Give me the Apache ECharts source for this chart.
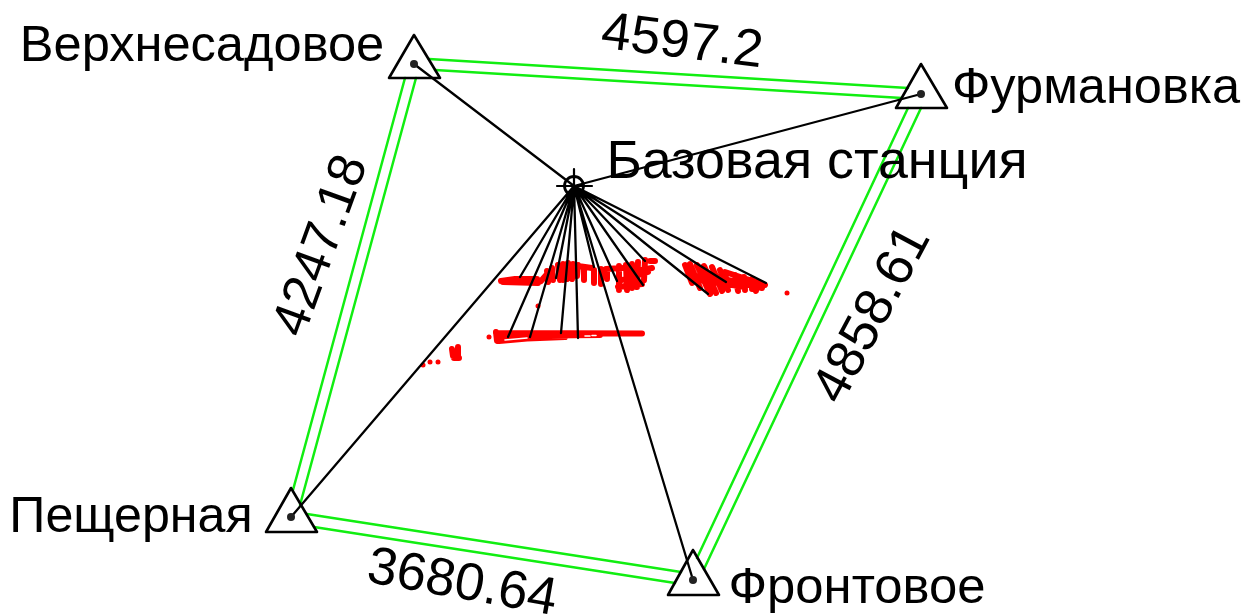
<!DOCTYPE html>
<html><head><meta charset="utf-8">
<style>html,body{margin:0;padding:0;background:#fff}#c{width:1245px;height:616px}</style>
<script src="https://cdn.jsdelivr.net/npm/echarts@6/dist/echarts.min.js"></script>
</head><body><div id="c"></div>
<script>
const stations = [[414,64],[921,94],[291,517],[693,580]];
const triangles = [
  [[414,35],[389,78],[440,78],[414,35]],
  [[921,64],[896,108],[947,108],[921,64]],
  [[291,488],[266,532],[317,532],[291,488]],
  [[693,550],[668,595],[719,595],[693,550]]
];
const greenLines = [
  [[429,59],[908,88]],[[435,70],[902,98]],
  [[405,78],[293,490]],[[416,78],[300,505]],
  [[908,108],[697,558]],[[921,108],[704,569]],
  [[307,514],[681,572]],[[314,527],[675,583]]
];
const baseStation = [574,186];
const baseCross = [[[557,186],[592,186]],[[574,169],[574,203]]];
const rayTargets = [[414,64],[921,94],[291,517],[693,580],
  [520,277],[508,337],[530,337],[556,278],[561,333],[578,338],
  [594,267],[617,281],[643,285],[645,261],[708,294],[726,282],[766,283]];
const redStrokes = [
  [[501,281],[515,279],[537,279]],[[503,282],[538,283]],[[541,281],[548,273]],[[547,271],[548,282]],
  [[552,268],[553,280]],[[558,265],[560,280]],[[563,264],[563,280]],[[568,263],[567,279]],[[573,264],[572,279]],[[578,265],[577,276]],
  [[584,267],[584,280]],[[578,266],[592,268]],[[594,270],[594,283]],[[601,269],[601,284]],[[607,270],[607,279]],[[606,269],[622,268]],
  [[619,266],[619,290]],[[626,265],[627,290]],[[632,264],[632,288]],[[638,262],[637,287]],[[645,260],[644,280]],[[650,261],[655,261]],
  [[618,287],[642,284]],[[630,272],[652,268]],[[622,280],[648,272]],
  [[496,333],[642,333.5]],[[497,336],[600,335]],[[499,341],[527,338.5],[565,337]],[[496,332],[497,341]],
  [[452,349],[453,356]],[[458,347],[458,358]],[[454,358],[459,358]],
  [[685,265],[692,283]],[[690,264],[700,288]],[[697,265],[710,294]],[[704,266],[716,293]],[[712,267],[722,291]],
  [[720,270],[728,290]],[[725,272],[765,285]],[[728,280],[762,288]],[[735,275],[738,291]],[[744,277],[745,290]],[[752,279],[752,289]],[[757,282],[756,291]],
  [[703,270],[720,282]],[[700,280],[745,287]],[[695,276],[726,278]]
];
const redDots = [[489,337],[423,365],[430,362],[438,362],[787,293],[538,306]];
const whiteSliver = [[[505,340],[527,338]],[[585,336],[590,336]],[[592,335.5],[596,335.5]]];
const edgeLabels = [
  ['4597.2',[682,43],-7,53],['4247.18',[322,246],70,52],['4858.61',[873,315],62,53],['3680.64',[462,584],-10,53]
];
const stationLabels = [
  ['Верхнесадовое',[202,47],50.6],['Фурмановка',[1096,89],50.5],['Пещерная',[131,518],50.2],
  ['Фронтовое',[857,589],50.8],['Базовая станция',[817,163],53.8]
];
const font = '"Liberation Sans",Arial,sans-serif';
function join(list){const o=[];list.forEach((s,i)=>{if(i)o.push([null,null]);o.push(...s)});return o}
function poly(data,color,w,z){return {type:'line',data:data,symbol:'none',connectNulls:false,silent:true,animation:false,z:z,
  lineStyle:{color:color,width:w,cap:'round',join:'round',opacity:1}}}
function txt(name,size,rot){return {show:true,position:'inside',formatter:name,rotate:rot||0,fontFamily:font,fontSize:size,color:'#000',opacity:1}}
const series = [
  poly(join(greenLines),'#11ee11',2.5,2),
  poly(join(redStrokes),'#ff0000',6,3),
  poly(join(whiteSliver),'#ffffff',1.6,4),
  {type:'scatter',data:redDots,symbolSize:5,itemStyle:{color:'#ff0000',opacity:1},z:3,silent:true,animation:false},
  poly(join(triangles),'#000',2.6,5),
  poly(join(rayTargets.map(t=>[baseStation,t])),'#000',2.3,6),
  poly(join(baseCross),'#000',2.2,6),
  {type:'scatter',data:[baseStation],symbolSize:19,itemStyle:{color:'rgba(255,255,255,0)',borderColor:'#000',borderWidth:2.8,opacity:1},z:7,silent:true,animation:false},
  {type:'scatter',data:stations,symbolSize:8,itemStyle:{color:'#222',opacity:1},z:7,silent:true,animation:false},
  {type:'scatter',symbolSize:0,itemStyle:{opacity:1},silent:true,animation:false,z:8,
    data:stationLabels.map(l=>({value:l[1],label:txt(l[0],l[2])}))},
  {type:'scatter',symbolSize:0,itemStyle:{opacity:1},silent:true,animation:false,z:8,
    data:edgeLabels.map(l=>({value:l[1],label:txt(l[0],l[3],l[2])}))}
];
const chart = echarts.init(document.getElementById('c'),null,{renderer:'canvas'});
chart.setOption({
  backgroundColor:'#fff',animation:false,
  grid:{left:0,right:0,top:0,bottom:0},
  xAxis:{type:'value',min:0,max:1245,show:false},
  yAxis:{type:'value',min:0,max:616,inverse:true,show:false},
  series:series
});
</script></body></html>
